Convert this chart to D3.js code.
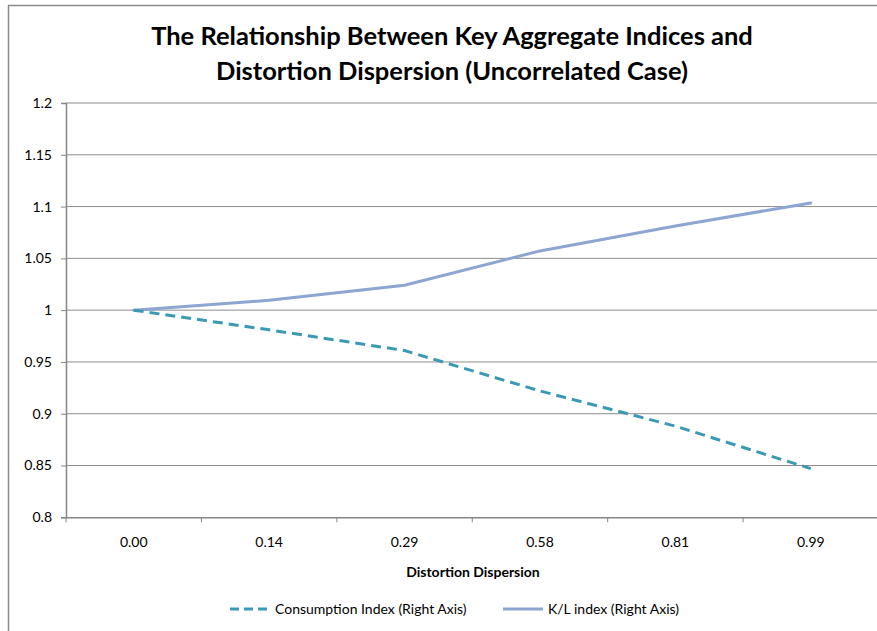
<!DOCTYPE html>
<html>
<head>
<meta charset="utf-8">
<script src="https://cdn.jsdelivr.net/npm/d3@7"></script>
<style>
  body { margin: 0; background: #fff; }
  text { font-family: Lato, "Open Sans", sans-serif; fill: #000; }
</style>
</head>
<body>
<svg width="877" height="631"></svg>
<script>
let categories = ['0.00', '0.14', '0.29', '0.58', '0.81', '0.99'];
let consumption = [1.0, 0.981, 0.961, 0.922, 0.888, 0.847];
let klIndex = [1.0, 1.0095, 1.024, 1.0572, 1.0813, 1.1035];
let yTicks = [0.8, 0.85, 0.9, 0.95, 1, 1.05, 1.1, 1.15, 1.2];
let seriesNames = ['Consumption Index (Right Axis)', 'K/L index (Right Axis)'];

let svg = d3.select('svg');

// chart border (cut off at right and bottom like the picture)
svg.append('rect')
   .attr('x', 8.5).attr('y', 5.5)
   .attr('width', 900).attr('height', 700)
   .attr('fill', 'none').attr('stroke', '#8a8a8a').attr('stroke-width', 1.5);

let plotLeft = 66, plotTop = 103, plotW = 812.5, plotH = 414.3;

let x = d3.scaleBand().domain(categories).range([plotLeft, plotLeft + plotW]);
let y = d3.scaleLinear().domain([0.8, 1.2]).range([plotTop + plotH, plotTop]);

// title
let title = svg.append('text')
   .attr('text-anchor', 'middle')
   .style('font-weight', 'bold')
   .style('font-size', '25.5px');
title.append('tspan').attr('x', 452).attr('y', 45).text('The Relationship Between Key Aggregate Indices and');
title.append('tspan').attr('x', 452).attr('y', 80).text('Distortion Dispersion (Uncorrelated Case)');

// gridlines
svg.append('g')
   .selectAll('line')
   .data(yTicks.filter(d => d > 0.8))
   .enter()
   .append('line')
   .attr('x1', plotLeft).attr('x2', plotLeft + plotW)
   .attr('y1', d => y(d)).attr('y2', d => y(d))
   .attr('stroke', '#8c8c8c').attr('stroke-width', 1);

// y axis
let yAxis = svg.append('g')
   .attr('transform', `translate(${plotLeft},0)`)
   .call(d3.axisLeft(y).tickValues(yTicks).tickSize(5).tickPadding(9).tickFormat(d => String(d)));
yAxis.select('.domain').attr('stroke', '#868686').attr('stroke-width', 1.5);
yAxis.selectAll('.tick line').attr('stroke', '#868686');
yAxis.selectAll('text').style('font-size', '14px').style('font-family', 'Lato, sans-serif');

// x axis
let xAxis = svg.append('g')
   .attr('transform', `translate(0,${plotTop + plotH})`)
   .call(d3.axisBottom(x).tickSize(0).tickPadding(20));
xAxis.select('.domain').attr('stroke', '#868686').attr('stroke-width', 1.5);
xAxis.selectAll('text').style('font-size', '14px').style('font-family', 'Lato, sans-serif');
// tick marks between categories
xAxis.selectAll('line.sep')
   .data(categories)
   .enter()
   .append('line')
   .attr('class', 'sep')
   .attr('x1', d => x(d)).attr('x2', d => x(d))
   .attr('y1', 0).attr('y2', 5)
   .attr('stroke', '#868686');

svg.append('text')
   .attr('x', 473).attr('y', 577)
   .attr('text-anchor', 'middle')
   .style('font-weight', 'bold').style('font-size', '14px')
   .text('Distortion Dispersion');

let cx = d => x(d) + x.bandwidth() / 2;
let line = d3.line().x((d, i) => cx(categories[i])).y(d => y(d));

svg.append('path')
   .datum(klIndex)
   .attr('d', line)
   .attr('fill', 'none')
   .attr('stroke', '#8DA5D1').attr('stroke-width', 3)
   .attr('stroke-linecap', 'round');

svg.append('path')
   .datum(consumption)
   .attr('d', line)
   .attr('fill', 'none')
   .attr('stroke', '#3A99B5').attr('stroke-width', 3)
   .attr('stroke-dasharray', '10,6');

// legend
let legend = svg.append('g');
let legendItems = [
  {name: seriesNames[0], x: 230, color: '#3A99B5', dash: '9,5'},
  {name: seriesNames[1], x: 503, color: '#8DA5D1', dash: null}
];
legendItems.forEach(item => {
  legend.append('line')
     .attr('x1', item.x).attr('x2', item.x + 40)
     .attr('y1', 609).attr('y2', 609)
     .attr('stroke', item.color).attr('stroke-width', 3)
     .attr('stroke-dasharray', item.dash);
  legend.append('text')
     .attr('x', item.x + 45).attr('y', 614)
     .style('font-size', '14px')
     .text(item.name);
});
</script>
</body>
</html>
